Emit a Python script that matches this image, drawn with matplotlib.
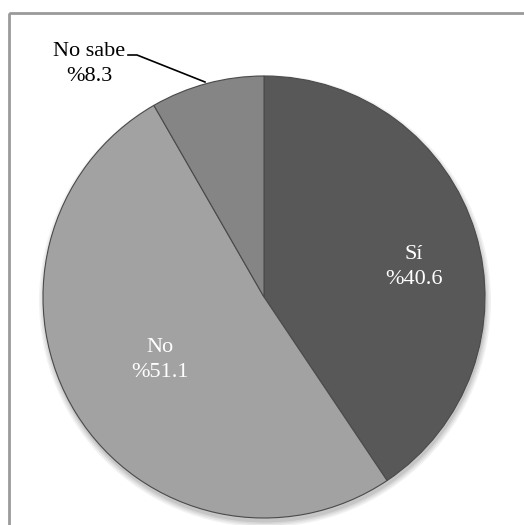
import matplotlib
matplotlib.use('Agg')
import matplotlib.pyplot as plt
from matplotlib.patches import Rectangle, Circle

plt.rcParams['font.family'] = ['Liberation Serif', 'DejaVu Serif']

# datos
etiquetas = ['Sí', 'No', 'No sabe']
valores = [40.6, 51.1, 8.3]
colores = ['#585858', '#a2a2a2', '#858585']

W, H = 524, 525
fig = plt.figure(figsize=(W / 100, H / 100), dpi=100)
ax = fig.add_axes([0, 0, 1, 1])
ax.set_xlim(0, W)
ax.set_ylim(H, 0)
ax.axis('off')

# marco
ax.add_patch(Rectangle((9, 13), 600, 600, fill=False, edgecolor='#9a9a9a', linewidth=2))

cx, cy, r = 264, 297, 221

# sombra suave
for k, a in enumerate([0.05, 0.05, 0.06, 0.08]):
    ax.add_patch(Circle((cx + 1, cy + 4), r + 5 - k * 1.5, color='black', alpha=a, linewidth=0))

# y invertido: counterclock=True se ve en sentido horario
wedges, _ = ax.pie(valores, colors=colores, startangle=-90, counterclock=True,
                   center=(cx, cy), radius=r, frame=True,
                   wedgeprops=dict(edgecolor='#4a4a4a', linewidth=0.8))
ax.set_xlim(0, W)
ax.set_ylim(H, 0)
ax.set_aspect('equal')
ax.axis('off')

ax.text(414, 267, 'Sí\n%40.6', color='white', fontsize=16, ha='center', va='center', linespacing=1.45)
ax.text(160, 360, 'No\n%51.1', color='white', fontsize=16, ha='center', va='center', linespacing=1.45)
ax.text(89, 64, 'No sabe\n%8.3', color='black', fontsize=16, ha='center', va='center', linespacing=1.45)
ax.plot([128, 137, 205], [55, 55, 82], color='black', linewidth=1.2)

fig.savefig('out.png', dpi=100)
